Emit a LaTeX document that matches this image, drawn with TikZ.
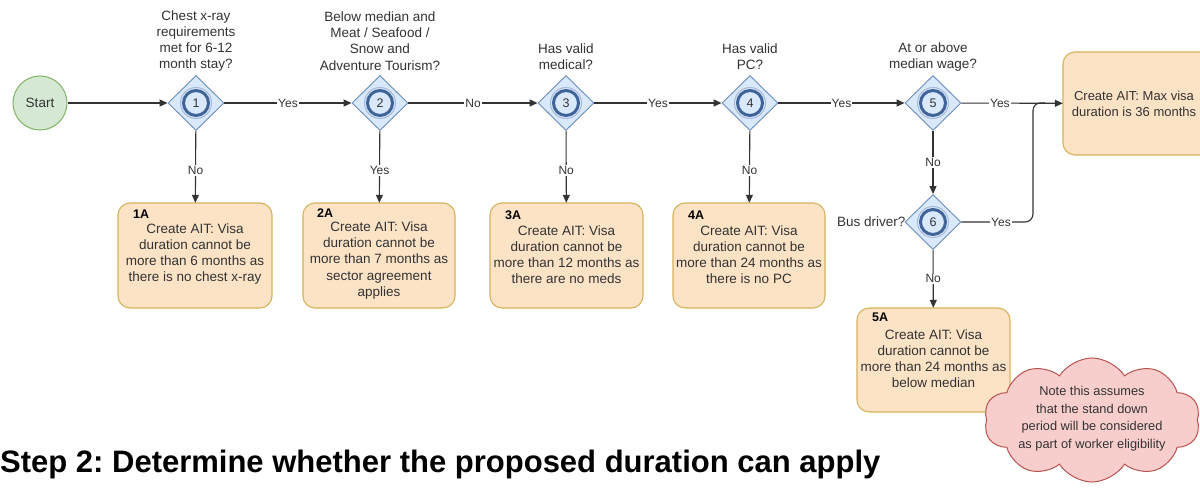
\documentclass[tikz,border=0pt]{standalone}
\usepackage{fontspec}
\setmainfont{Liberation Sans}
\usetikzlibrary{shapes.geometric,shapes.symbols,arrows.meta,calc}
\definecolor{diaFill}{HTML}{DAE8FC}
\definecolor{diaStroke}{HTML}{6C8EBF}
\definecolor{ringC}{HTML}{3F6499}
\definecolor{boxFill}{HTML}{FCE3C6}
\definecolor{boxStroke}{HTML}{D6B35A}
\definecolor{startFill}{HTML}{D5E8D4}
\definecolor{startStroke}{HTML}{82B366}
\definecolor{cloudFill}{HTML}{F8CECC}
\definecolor{cloudStroke}{HTML}{B85450}
\definecolor{lineC}{HTML}{333333}
\definecolor{txtC}{HTML}{333333}
\frenchspacing
\tikzset{
  txt/.style={font=\fontsize{13.5}{16.2}\selectfont, text=txtC, align=center, inner sep=0},
  dia/.style={diamond, draw=diaStroke, fill=diaFill, line width=0.9, minimum width=56, minimum height=55, inner sep=0},
  ringo/.style={circle, draw=diaStroke!60, line width=1, minimum size=31, inner sep=0},
  ringi/.style={circle, draw=ringC, line width=3, minimum size=25, inner sep=0, font=\fontsize{12.5}{14}\selectfont, text=txtC},
  abox/.style={draw=boxStroke, fill=boxFill, line width=1.1, rounded corners=12},
  edge/.style={draw=lineC, line width=1.1, -{Triangle[length=8,width=7]}},
  lbl/.style={fill=white, inner sep=1, font=\fontsize{12}{14}\selectfont, text=txtC},
  tag/.style={font=\bfseries\fontsize{12.5}{14}\selectfont, text=black, inner sep=0, anchor=west},
}
\begin{document}
\begin{tikzpicture}[x=1pt,y=-1pt]
\useasboundingbox (0,0) rectangle (1200,489);
\fill[white] (0,0) rectangle (1200,489);

% start
\node[circle, draw=startStroke, fill=startFill, line width=1, minimum size=54, inner sep=0, txt] (start) at (40,103) {Start};

% diamonds
\foreach \n/\x/\y in {1/196/103, 2/380/103, 3/566/103, 4/750/103, 5/933/103, 6/933/222}{
  \node[dia] (d\n) at (\x,\y) {};
  \node[ringo] (ro\n) at (\x,\y) {};
  \node[ringi] (ri\n) at (\x,\y) {\n};
}

% questions
\node[txt] (q1) at (196,41) {Chest x-ray\\requirements\\met for 6-12\\month stay?};
\node[txt] (q2) at (380,41) {Below median and\\Meat / Seafood /\\Snow and\\Adventure Tourism?};
\node[txt] (q3) at (566,57) {Has valid\\medical?};
\node[txt] (q4) at (750,57) {Has valid\\PC?};
\node[txt] (q5) at (933,57) {At or above\\median wage?};
\node[txt, anchor=east] (q6) at ($(d6.west)+(1,0)$) {Bus driver?};

% result boxes
\path[abox] (118,203) rectangle (272,308);
\path[abox] (303,203) rectangle (455,308);
\path[abox] (490,203) rectangle (643,308);
\path[abox] (673,203) rectangle (825,308);
\path[abox] (857,308) rectangle (1010,412);
\path[abox] (1063,52) rectangle (1232,155);
\node[inner sep=0, minimum width=154, minimum height=105] (a1) at (195,255.5) {};
\node[inner sep=0, minimum width=152, minimum height=105] (a2) at (379,255.5) {};
\node[inner sep=0, minimum width=153, minimum height=105] (a3) at (566.5,255.5) {};
\node[inner sep=0, minimum width=152, minimum height=105] (a4) at (749,255.5) {};
\node[inner sep=0, minimum width=153, minimum height=104] (a5) at (933.5,360) {};
\node[inner sep=0, minimum width=169, minimum height=103] (big) at (1147.5,103.5) {};

\node[tag] (t1) at (133,214) {1A};
\node[tag] (t2) at (317,213) {2A};
\node[tag] (t3) at (505,215) {3A};
\node[tag] (t4) at (688,215) {4A};
\node[tag] (t5) at (872,317) {5A};

\node[txt] (b1) at (195,254) {Create AIT: Visa\\duration cannot be\\more than 6 months as\\there is no chest x-ray};
\node[txt] (b2) at (379,260.5) {Create AIT: Visa\\duration cannot be\\more than 7 months as\\sector agreement\\applies};
\node[txt] (b3) at (566.5,254.5) {Create AIT: Visa\\duration cannot be\\more than 12 months as\\there are no meds};
\node[txt] (b4) at (749,254.5) {Create AIT: Visa\\duration cannot be\\more than 24 months as\\there is no PC};
\node[txt] (b5) at (933.5,358.5) {Create AIT: Visa\\duration cannot be\\more than 24 months as\\below median};
\node[txt, font=\fontsize{13}{16.2}\selectfont] (bb) at (1134,104) {Create AIT: Max visa\\duration is 36 months};

% cloud
\node[cloud, cloud puffs=10, cloud puff arc=115, cloud ignores aspect, draw=cloudStroke, fill=cloudFill, line width=1, minimum width=216, minimum height=124, inner sep=0] (cl) at (1092,420) {};
\node[txt, font=\fontsize{12.8}{17.6}\selectfont] (clt) at (1092,418.5) {Note this assumes\\that the stand down\\period will be considered\\as part of worker eligibility};

% title
\node[font=\bfseries\fontsize{31}{36}\selectfont, text=black, anchor=base west, inner sep=0] (title) at (0,472) {Step 2: Determine whether the proposed duration can apply};

% connectors
\coordinate (j) at (1033,103);
\draw[edge] (start) -- (d1);
\draw[edge] (d1) -- node[lbl]{Yes} (d2);
\draw[edge] (d2) -- node[lbl]{No} (d3);
\draw[edge] (d3) -- node[lbl]{Yes} (d4);
\draw[edge] (d4) -- node[lbl]{Yes} (d5);
\draw[edge] (d5) -- node[lbl, pos=0.38]{Yes} (big);
\draw[edge] (d1) -- node[lbl, pos=0.55]{No} (a1);
\draw[edge] (d2) -- node[lbl, pos=0.55]{Yes} (a2);
\draw[edge] (d3) -- node[lbl, pos=0.55]{No} (a3);
\draw[edge] (d4) -- node[lbl, pos=0.55]{No} (a4);
\draw[edge] (d5) -- node[lbl]{No} (d6);
\draw[edge] (d6) -- node[lbl]{No} (a5);
\draw[draw=lineC, line width=1.1, rounded corners=8] (d6.east) -| ($(j)+(0,-0.5)$) -- ($(j)+(12,0)$);
\node[lbl] (y6) at (1001,222) {Yes};
\end{tikzpicture}
\end{document}
